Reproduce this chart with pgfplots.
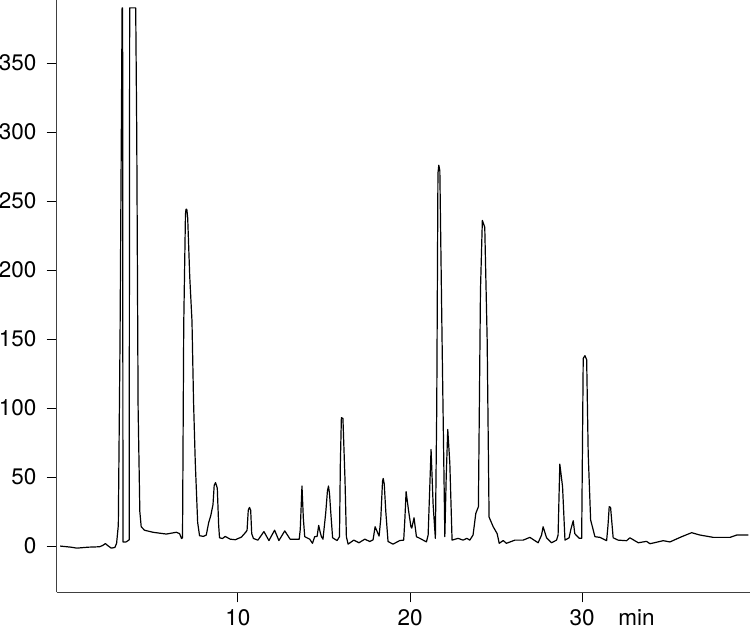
\documentclass[border=0pt]{standalone}
\usepackage{fontspec}
\setmainfont{TeX Gyre Heros}
\usepackage{pgfplots}
\pgfplotsset{compat=1.18}
\begin{document}
\begin{tikzpicture}
\begin{axis}[
  at={(0,0)}, anchor=south west,
  scale only axis, width=693.3pt, height=592.3pt,
  xmin=-0.53, xmax=39.75, ymin=-33.5, ymax=395.7,
  axis x line*=bottom, axis y line*=left,
  axis line style={black!75, line width=0.9pt},
  xtick={10,20,30}, ytick={0,50,...,350},
  tick align=outside, major tick length=10pt,
  tick style={black, line width=0.9pt},
  /pgf/number format/assume math mode=true,
  tick label style={font=\fontsize{22.5}{26}\selectfont, black},
  xticklabel style={inner sep=0pt, anchor=base, yshift=-23.5pt},
  yticklabel style={inner sep=0pt, anchor=east, xshift=-10pt},
  clip=false,
]
\addplot[black, line width=1.2pt, line join=round] coordinates {
(-0.33,0) (0.3,-0.8) (0.64,-1.5) (1.3,-0.8) (1.96,-0.5) (2.15,0.5) (2.3,1.8) (2.44,0.3) (2.64,-1.5) (2.85,-1.0) (2.95,2) (3.05,15) (3.15,150) (3.27,390) (3.30,390) (3.32,3) (3.5,3) (3.68,4.5) (3.71,390) (4.06,390) (4.12,300) (4.2,100) (4.3,25) (4.38,14) (4.57,11.5) (5.06,10) (5.84,8.7) (6.42,10) (6.61,9) (6.72,5.5) (6.78,6) (6.85,160) (6.95,240) (6.98,244) (7.03,244) (7.08,238) (7.2,195) (7.33,163) (7.42,105) (7.52,61) (7.66,17) (7.77,7.5) (8.0,7) (8.16,8) (8.3,17) (8.42,22) (8.55,30) (8.62,44) (8.70,46) (8.80,42) (8.88,15) (8.93,6) (9.1,5.5) (9.26,7) (9.55,5) (9.85,4.6) (10.2,6.5) (10.45,10) (10.53,11.5) (10.6,26) (10.67,28) (10.74,26) (10.8,9) (10.9,5.5) (11.16,4.3) (11.51,10.5) (11.8,4) (12.13,11.5) (12.38,4) (12.72,11) (13.03,5) (13.56,5) (13.62,12) (13.72,43.5) (13.8,20) (13.88,6.8) (14.17,5) (14.33,2) (14.46,6.8) (14.6,7) (14.69,15) (14.78,10) (14.85,6.8) (14.94,5) (15.1,24) (15.2,40) (15.26,43.5) (15.32,38) (15.39,25) (15.5,6) (15.76,4) (15.9,6.8) (15.95,60) (16.01,93) (16.1,92.5) (16.22,48) (16.3,6.8) (16.4,1.4) (16.73,4.3) (17.03,2.4) (17.37,5) (17.66,3.3) (17.85,4.5) (17.97,14) (18.2,7.2) (18.3,20) (18.4,47) (18.44,49) (18.5,45) (18.59,25) (18.72,3.3) (19.01,1.4) (19.4,4) (19.63,4.3) (19.7,20) (19.77,39.4) (19.92,25) (20.05,14) (20.1,13) (20.23,20.5) (20.37,6.8) (20.6,5.4) (20.95,3) (21.05,8) (21.22,70) (21.34,30) (21.47,5.6) (21.55,100) (21.62,270) (21.67,276) (21.73,272) (21.86,149) (22.02,6.8) (22.1,50) (22.19,84.5) (22.31,60) (22.44,4.3) (22.79,5.6) (23.08,4.3) (23.3,5.6) (23.47,4.3) (23.66,8) (23.82,23.7) (23.97,28.5) (24.09,185) (24.2,236) (24.34,231) (24.48,149) (24.59,21) (24.83,14) (25.06,9) (25.18,2) (25.41,4) (25.6,2) (26.09,4.3) (26.57,4.3) (26.96,6.3) (27.44,2.4) (27.64,8) (27.73,14) (27.93,6) (28.22,2.4) (28.51,4.3) (28.6,8) (28.7,59.4) (28.86,43) (29.0,4.3) (29.24,6) (29.34,12) (29.48,18.4) (29.57,9) (29.83,5.6) (29.97,5.6) (30.06,136) (30.16,138) (30.26,135) (30.35,67) (30.49,19) (30.74,6.8) (31.03,6.3) (31.42,3.9) (31.5,15) (31.57,28.5) (31.65,28) (31.8,6) (32.09,4.3) (32.58,3.9) (32.77,6) (33.26,2.4) (33.74,3.4) (33.94,1.7) (34.71,3.9) (35.1,3) (35.78,6.8) (36.36,9.7) (36.84,8) (37.62,6.3) (38.59,6.3) (38.98,8) (39.65,8)
};
\node[anchor=base, inner sep=0pt, font=\fontsize{22.5}{26}\selectfont] at (axis cs:33.16,-33.5) [yshift=-33.5pt] {min};
\end{axis}
\pgfresetboundingbox
\path[use as bounding box] (-56.7pt,-37.7pt) rectangle (693.3pt,592.3pt);
\end{tikzpicture}
\end{document}
